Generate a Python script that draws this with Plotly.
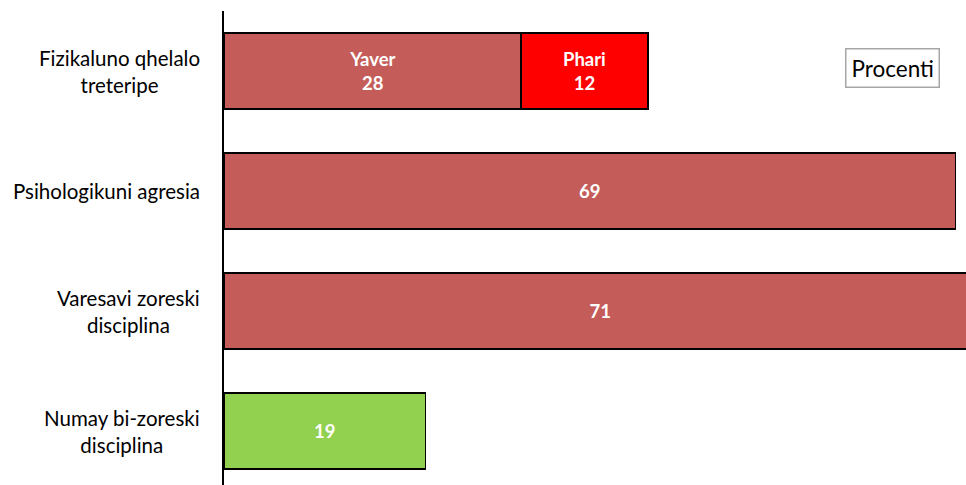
import plotly.graph_objects as go

categories = ["Fizikaluno qhelalo<br>treteripe", "Psihologikuni agresia",
              "Varesavi zoreski<br>disciplina", "Numay bi-zoreski<br>disciplina"]
main_values = [28, 69, 71, 19]
main_labels = ["Yaver", "", "", ""]
extra_values = [12]
extra_labels = ["Phari"]
legend_text = "Procenti"

main_colors = ["#C45C5A", "#C45C5A", "#C45C5A", "#92D050"]
positions = list(range(len(categories)))

def lab(name, v):
    return f"<b>{name}<br>{v}</b>" if name else f"<b>{v}</b>"

fig = go.Figure()
fig.add_trace(go.Bar(
    y=positions, x=main_values, orientation="h",
    marker=dict(color=main_colors, line=dict(color="black", width=1.5)),
    text=[lab(n, v) for n, v in zip(main_labels, main_values)],
    textposition="inside", insidetextanchor="middle",
    textfont=dict(color="white", size=18.5, family="Lato"),
    width=0.633, showlegend=False, hoverinfo="skip",
))
fig.add_trace(go.Bar(
    y=positions[:1], x=extra_values, orientation="h",
    marker=dict(color="#FF0000", line=dict(color="black", width=1.5)),
    text=[lab(n, v) for n, v in zip(extra_labels, extra_values)],
    textposition="inside", insidetextanchor="middle",
    textfont=dict(color="white", size=18.5, family="Lato"),
    width=0.633, showlegend=False, hoverinfo="skip",
))

for p, c in zip(positions, categories):
    fig.add_annotation(x=-0.03, xref="paper", y=p, yref="y", text=c,
                       showarrow=False, xanchor="right", yanchor="middle",
                       align="center", font=dict(size=20.5, color="black", family="Lato"))

fig.add_annotation(x=0.9016, xref="paper", y=0.88, yref="paper", text=legend_text,
                   showarrow=False, xanchor="center", yanchor="middle",
                   bordercolor="#A6A6A6", borderwidth=1.5, borderpad=5, bgcolor="white",
                   font=dict(size=22.5, color="black", family="Lato"))

fig.update_layout(
    width=966, height=485,
    margin=dict(l=224, r=0, t=11, b=0),
    barmode="stack",
    plot_bgcolor="white", paper_bgcolor="white",
    xaxis=dict(range=[0, 70], showgrid=False, zeroline=False, showticklabels=False,
               showline=False, ticks=""),
    yaxis=dict(range=[3.45, -0.5], showgrid=False, zeroline=False, showticklabels=False,
               showline=True, linecolor="black", linewidth=2, ticks=""),
    font=dict(family="Lato"),
)

fig.write_html("out.html", config={"displayModeBar": False},
               post_script="document.body.style.margin='0';document.body.style.overflow='hidden';")
